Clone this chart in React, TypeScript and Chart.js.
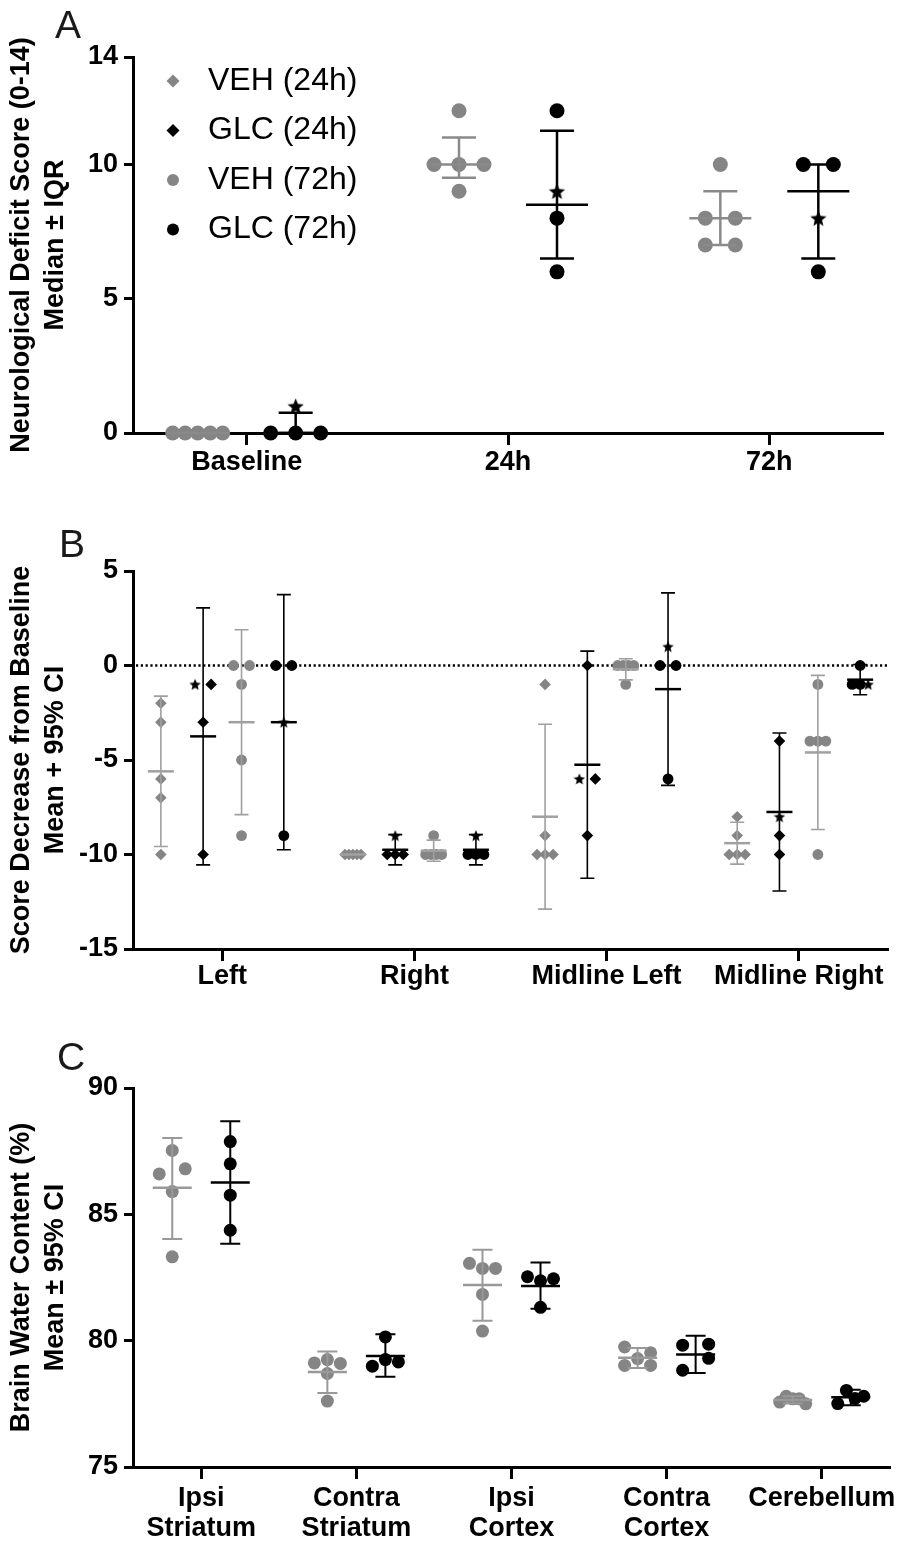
import React, { useEffect, useRef } from 'react';
import { Chart, registerables } from 'chart.js';

Chart.register(...registerables);

const FONT = "'Liberation Sans', Arial, Helvetica, sans-serif";
const GRAY = '#858585';
const BLACK = '#000000';

// ---------------- figure legend ----------------
const legendLabels = ['VEH (24h)', 'GLC (24h)', 'VEH (72h)', 'GLC (72h)'];

// ---------------- Panel A ----------------
const aCategories = ['Baseline', '24h', '72h'];
const aYTicks = [0, 5, 10, 14];
const aYTitle = ['Neurological Deficit Score (0-14)', 'Median ± IQR'];
const aVeh = [[0, 0, 0, 0, 0], [12, 10, 10, 10, 9], [10, 8, 8, 7, 7]];
const aGlc = [[0, 0, 0, 1], [12, 8, 6, 9], [10, 10, 8, 6]];
const aGlcStarIndex = [3, 3, 2];
const aVehMedian = [0, 10, 8];
const aVehQ1 = [0, 9.5, 7];
const aVehQ3 = [0, 11, 9];
const aGlcMedian = [0, 8.5, 9];
const aGlcQ1 = [0, 6.5, 6.5];
const aGlcQ3 = [0.75, 11.25, 10];

// ---------------- Panel B ----------------
const bCategories = ['Left', 'Right', 'Midline Left', 'Midline Right'];
const bYTicks = [-15, -10, -5, 0, 5];
const bYTitle = ['Score Decrease from Baseline', 'Mean + 95% CI'];
const bVeh24 = [[-2, -3, -6, -7, -10], [-10, -10, -10, -10, -10], [-1, -9, -10, -10, -10], [-8, -9, -10, -10, -10]];
const bGlc24 = [[-1, -1, -3, -10], [-9, -10, -10, -10], [-6, -6, 0, -9], [-8, -4, -9, -10]];
const bGlc24StarIndex = [0, 0, 0, 0];
const bVeh72 = [[0, 0, -1, -5, -9], [-9, -10, -10, -10, -10], [0, 0, 0, 0, -1], [-1, -4, -4, -4, -10]];
const bGlc72 = [[-3, 0, 0, -9], [-9, -10, -10, -10], [1, 0, 0, -6], [-1, -1, -1, 0]];
const bGlc72StarIndex = [0, 0, 0, 2];
const bVeh24Mean = [-5.6, -10, -8, -9.4];
const bVeh24Lo = [-9.58, -10, -12.89, -10.51];
const bVeh24Hi = [-1.62, -10, -3.11, -8.29];
const bGlc24Mean = [-3.75, -9.75, -5.25, -7.75];
const bGlc24Lo = [-10.55, -10.55, -11.26, -11.93];
const bGlc24Hi = [3.05, -8.95, 0.76, -3.57];
const bVeh72Mean = [-3, -9.8, -0.2, -4.6];
const bVeh72Lo = [-7.89, -10.36, -0.76, -8.68];
const bVeh72Hi = [1.89, -9.24, 0.36, -0.52];
const bGlc72Mean = [-3, -9.75, -1.25, -0.75];
const bGlc72Lo = [-9.75, -10.55, -6.34, -1.55];
const bGlc72Hi = [3.75, -8.95, 3.84, 0.05];

// ---------------- Panel C ----------------
const cCategories = [['Ipsi', 'Striatum'], ['Contra', 'Striatum'], ['Ipsi', 'Cortex'], ['Contra', 'Cortex'], ['Cerebellum']];
const cYTicks = [75, 80, 85, 90];
const cYTitle = ['Brain Water Content (%)', 'Mean ± 95% CI'];
const cVeh = [
  [87.53, 86.6, 86.8, 85.9, 83.32],
  [79.25, 79.12, 79.1, 78.7, 77.61],
  [82.86, 83.06, 82.86, 81.83, 80.38],
  [79.29, 79.75, 79.52, 79.02, 79.02],
  [77.7, 77.8, 77.7, 77.57, 77.5],
];
const cGlc = [
  [87.88, 87.0, 85.76, 84.37],
  [80.15, 79.25, 78.99, 79.16],
  [82.37, 82.53, 82.45, 81.32],
  [79.82, 79.86, 78.83, 79.3],
  [78.03, 77.71, 77.51, 77.8],
];
const cVehMean = [86.05, 78.76, 82.2, 79.32, 77.65];
const cVehLo = [84.02, 77.93, 80.79, 78.92, 77.51];
const cVehHi = [88.02, 79.57, 83.6, 79.71, 77.8];
const cGlcMean = [86.26, 79.39, 82.16, 79.45, 77.76];
const cGlcLo = [83.84, 78.57, 81.26, 78.72, 77.44];
const cGlcHi = [88.68, 80.25, 83.09, 80.19, 78.06];

// ---------------- helpers ----------------
type Shape = 'circle' | 'rectRot';
interface SeriesDef {
  values: number[][];
  starIndex: number[] | null;
  center: number[];
  lo: number[];
  hi: number[];
  offset: number;
  shape: Shape;
  radius: number;
  color: string;
  line: string;
}
interface PanelDef {
  height: number;
  padTop: number;
  padRight: number;
  xAxisH: number;
  labelPad: number;
  categories: (string | string[])[];
  xMin: number;
  xMax: number;
  yMin: number;
  yMax: number;
  yTicks: number[];
  yTitle: string[];
  letter: string;
  letterX: number;
  letterY: number;
  series: SeriesDef[];
  starSize: number;
  rowGap: number;
  pair: number;
  span: number;
  whisker: number;
  meanLw: number;
  capHalf: number;
  meanHalf: number;
  zeroLine: boolean;
  legend: boolean;
}

function makeStar(size: number, color: string): HTMLCanvasElement {
  const c = document.createElement('canvas');
  c.width = size;
  c.height = size;
  const ctx = c.getContext('2d')!;
  const R = size / 2;
  const r = R * 0.45;
  const cy = R + R * 0.09;
  ctx.beginPath();
  for (let i = 0; i < 10; i++) {
    const ang = -Math.PI / 2 + (i * Math.PI) / 5;
    const rad = i % 2 ? r : R;
    ctx.lineTo(R + rad * Math.cos(ang), cy + rad * Math.sin(ang));
  }
  ctx.closePath();
  ctx.fillStyle = color;
  ctx.fill();
  return c;
}

function slotOrder(n: number): number[] {
  const out: number[] = [];
  if (n % 2 === 1) {
    out.push(0);
    for (let k = 1; out.length < n; k++) {
      out.push(-k);
      if (out.length < n) out.push(k);
    }
  } else {
    for (let k = 0.5; out.length < n; k++) {
      out.push(-k);
      if (out.length < n) out.push(k);
    }
  }
  return out;
}

// scatter-dot spreading: points whose pixel rows overlap are spread sideways
function spread(vals: number[], toPx: (v: number) => number, rowGap: number, pair: number, span: number): number[] {
  const py = vals.map(toPx);
  const order = vals.map((_, i) => i).sort((a, b) => py[a] - py[b] || a - b);
  const rows: number[][] = [];
  let top = -Infinity;
  for (const i of order) {
    if (rows.length && py[i] - top < rowGap) rows[rows.length - 1].push(i);
    else {
      rows.push([i]);
      top = py[i];
    }
  }
  const off = vals.map(() => 0);
  rows.forEach((row) => {
    if (row.length < 2) return;
    row.sort((a, b) => a - b);
    const sp = Math.min(pair, span / (row.length - 1));
    const slots = slotOrder(row.length);
    row.forEach((i, k) => {
      off[i] = slots[k] * sp;
    });
  });
  return off;
}

const panelA: PanelDef = {
  height: 505, padTop: 57, padRight: 23, xAxisH: 72, labelPad: 2,
  categories: aCategories, xMin: -0.435, xMax: 2.435,
  yMin: 0, yMax: 14, yTicks: aYTicks, yTitle: aYTitle,
  letter: 'A', letterX: 55, letterY: 38,
  series: [
    { values: aVeh, starIndex: null, center: aVehMedian, lo: aVehQ1, hi: aVehQ3, offset: -0.1875, shape: 'circle', radius: 7.5, color: GRAY, line: '#8a8a8a' },
    { values: aGlc, starIndex: aGlcStarIndex, center: aGlcMedian, lo: aGlcQ1, hi: aGlcQ3, offset: 0.1875, shape: 'circle', radius: 7.5, color: BLACK, line: BLACK },
  ],
  starSize: 17, rowGap: 3, pair: 30, span: 50,
  whisker: 2.5, meanLw: 2.5, capHalf: 17, meanHalf: 31,
  zeroLine: false, legend: true,
};

const panelB: PanelDef = {
  height: 510, padTop: 66, padRight: 18, xAxisH: 66, labelPad: 0,
  categories: bCategories, xMin: -0.465, xMax: 3.465,
  yMin: -15, yMax: 5, yTicks: bYTicks, yTitle: bYTitle,
  letter: 'B', letterX: 59, letterY: 52,
  series: [
    { values: bVeh24, starIndex: null, center: bVeh24Mean, lo: bVeh24Lo, hi: bVeh24Hi, offset: -0.32, shape: 'rectRot', radius: 5.8, color: GRAY, line: '#a0a0a0' },
    { values: bGlc24, starIndex: bGlc24StarIndex, center: bGlc24Mean, lo: bGlc24Lo, hi: bGlc24Hi, offset: -0.1, shape: 'rectRot', radius: 5.8, color: BLACK, line: BLACK },
    { values: bVeh72, starIndex: null, center: bVeh72Mean, lo: bVeh72Lo, hi: bVeh72Hi, offset: 0.1, shape: 'circle', radius: 5.4, color: GRAY, line: '#a0a0a0' },
    { values: bGlc72, starIndex: bGlc72StarIndex, center: bGlc72Mean, lo: bGlc72Lo, hi: bGlc72Hi, offset: 0.32, shape: 'circle', radius: 5.4, color: BLACK, line: BLACK },
  ],
  starSize: 12, rowGap: 3, pair: 17, span: 16,
  whisker: 1.6, meanLw: 2.5, capHalf: 7, meanHalf: 13,
  zeroLine: true, legend: false,
};

const panelC: PanelDef = {
  height: 527, padTop: 73, padRight: 16, xAxisH: 75, labelPad: 4,
  categories: cCategories, xMin: -0.44, xMax: 4.44,
  yMin: 75, yMax: 90, yTicks: cYTicks, yTitle: cYTitle,
  letter: 'C', letterX: 57, letterY: 55,
  series: [
    { values: cVeh, starIndex: null, center: cVehMean, lo: cVehLo, hi: cVehHi, offset: -0.187, shape: 'circle', radius: 6.5, color: GRAY, line: '#999999' },
    { values: cGlc, starIndex: null, center: cGlcMean, lo: cGlcLo, hi: cGlcHi, offset: 0.187, shape: 'circle', radius: 6.5, color: BLACK, line: BLACK },
  ],
  starSize: 12, rowGap: 13.5, pair: 26, span: 26,
  whisker: 2, meanLw: 2.5, capHalf: 10, meanHalf: 19.5,
  zeroLine: false, legend: false,
};

const legendShapes: { shape: Shape; color: string }[] = [
  { shape: 'rectRot', color: GRAY },
  { shape: 'rectRot', color: BLACK },
  { shape: 'circle', color: GRAY },
  { shape: 'circle', color: BLACK },
];

function Panel({ p }: { p: PanelDef }) {
  const ref = useRef<HTMLCanvasElement>(null);
  useEffect(() => {
    const canvas = ref.current;
    if (!canvas) return;
    const star = makeStar(p.starSize, BLACK);

    const groups: { x: number; c: number; lo: number; hi: number; color: string }[] = [];
    const datasets: any[] = [];
    p.series.forEach((s) => {
      datasets.push({
        data: [], pointStyle: s.shape, pointRadius: s.radius, pointBorderWidth: 0,
        backgroundColor: s.color, borderColor: s.color, showLine: false, clip: false,
      });
      if (s.starIndex) {
        datasets.push({
          data: [], pointStyle: star, pointRadius: p.starSize / 2, pointBorderWidth: 0,
          backgroundColor: BLACK, borderColor: BLACK, showLine: false, clip: false,
        });
      }
      s.values.forEach((_, ci) => {
        groups.push({ x: ci + s.offset, c: s.center[ci], lo: s.lo[ci], hi: s.hi[ci], color: s.line });
      });
    });

    const deco = {
      id: 'deco',
      beforeDatasetsDraw(chart: any) {
        if (!p.zeroLine) return;
        const { ctx, chartArea, scales } = chart;
        const y0 = scales.y.getPixelForValue(0);
        ctx.save();
        ctx.strokeStyle = BLACK;
        ctx.lineWidth = 2.5;
        ctx.setLineDash([2.2, 2.6]);
        ctx.beginPath();
        ctx.moveTo(chartArea.left + 3, y0);
        ctx.lineTo(chartArea.right, y0);
        ctx.stroke();
        ctx.restore();
      },
      afterDatasetsDraw(chart: any) {
        const { ctx, scales } = chart;
        const xs = scales.x;
        const ys = scales.y;
        ctx.save();
        ctx.lineCap = 'butt';
        groups.forEach((g) => {
          const px = xs.getPixelForValue(g.x);
          const pc = ys.getPixelForValue(g.c);
          const pl = ys.getPixelForValue(g.lo);
          const ph = ys.getPixelForValue(g.hi);
          ctx.strokeStyle = g.color;
          if (g.hi > g.lo) {
            ctx.lineWidth = p.whisker;
            ctx.beginPath();
            ctx.moveTo(px, pl);
            ctx.lineTo(px, ph);
            ctx.moveTo(px - p.capHalf, pl);
            ctx.lineTo(px + p.capHalf, pl);
            ctx.moveTo(px - p.capHalf, ph);
            ctx.lineTo(px + p.capHalf, ph);
            ctx.stroke();
          }
          ctx.lineWidth = p.meanLw;
          ctx.beginPath();
          ctx.moveTo(px - p.meanHalf, pc);
          ctx.lineTo(px + p.meanHalf, pc);
          ctx.stroke();
        });
        ctx.restore();
      },
      afterDraw(chart: any) {
        const { ctx } = chart;
        ctx.save();
        ctx.fillStyle = '#1a1a1a';
        ctx.font = `39px ${FONT}`;
        ctx.textBaseline = 'alphabetic';
        ctx.textAlign = 'left';
        ctx.fillText(p.letter, p.letterX, p.letterY);
        if (p.legend) {
          legendLabels.forEach((label, i) => {
            const y = 81 + i * 49.5;
            const x = 173;
            const m = legendShapes[i];
            ctx.fillStyle = m.color;
            ctx.beginPath();
            if (m.shape === 'circle') {
              ctx.arc(x, y, 6, 0, Math.PI * 2);
            } else {
              const r = 6.5;
              ctx.moveTo(x - r, y);
              ctx.lineTo(x, y - r);
              ctx.lineTo(x + r, y);
              ctx.lineTo(x, y + r);
              ctx.closePath();
            }
            ctx.fill();
            ctx.fillStyle = BLACK;
            ctx.font = `32px ${FONT}`;
            ctx.textBaseline = 'middle';
            ctx.fillText(label, 208, y);
          });
        }
        ctx.restore();
      },
    };

    const tickFont = { family: FONT, size: 27, weight: 'bold' as const, lineHeight: 1.12 };
    const chart = new Chart(canvas, {
      type: 'scatter',
      data: { datasets },
      options: {
        responsive: false,
        animation: false,
        events: [],
        layout: { padding: { top: p.padTop, right: p.padRight, left: 0, bottom: 0 } },
        plugins: { legend: { display: false }, tooltip: { enabled: false } },
        scales: {
          x: {
            type: 'linear',
            min: p.xMin,
            max: p.xMax,
            afterFit: (s: any) => { s.height = p.xAxisH; },
            afterBuildTicks: (s: any) => { s.ticks = p.categories.map((_, i) => ({ value: i })); },
            ticks: {
              autoSkip: false, maxRotation: 0, minRotation: 0, padding: p.labelPad,
              color: BLACK, font: tickFont,
              callback: (v: any) => p.categories[Math.round(Number(v))] as any,
            },
            grid: { display: true, drawOnChartArea: false, drawTicks: true, tickLength: 12, tickWidth: 3, tickColor: BLACK, color: BLACK },
            border: { display: true, color: BLACK, width: 3 },
          },
          y: {
            type: 'linear',
            min: p.yMin,
            max: p.yMax,
            afterFit: (s: any) => { s.width = 133; },
            afterBuildTicks: (s: any) => { s.ticks = p.yTicks.map((v) => ({ value: v })); },
            ticks: {
              autoSkip: false, padding: 6, color: BLACK,
              font: { family: FONT, size: 27, weight: 'bold' as const, lineHeight: 1.2 },
              callback: (v: any) => String(v),
            },
            grid: { display: true, drawOnChartArea: false, drawTicks: true, tickLength: 9, tickWidth: 3, tickColor: BLACK, color: BLACK },
            border: { display: true, color: BLACK, width: 3 },
            title: {
              display: true, text: p.yTitle, color: BLACK,
              font: { family: FONT, size: 27, weight: 'bold' as const, lineHeight: 1.25 },
              padding: { top: 5, bottom: 0 },
            },
          },
        },
      } as any,
      plugins: [deco],
    });

    // place the points: spread equal/overlapping values sideways, as in a scatter-dot plot
    const xs: any = chart.scales.x;
    const ys: any = chart.scales.y;
    const ppu = xs.getPixelForValue(1) - xs.getPixelForValue(0);
    let di = 0;
    p.series.forEach((s) => {
      const pts: { x: number; y: number }[] = [];
      const stars: { x: number; y: number }[] = [];
      s.values.forEach((vals, ci) => {
        const off = spread(vals, (v) => ys.getPixelForValue(v), p.rowGap, p.pair, p.span);
        const si = s.starIndex ? s.starIndex[ci] : -1;
        vals.forEach((v, k) => {
          const pt = { x: ci + s.offset + off[k] / ppu, y: v };
          if (k === si) stars.push(pt);
          else pts.push(pt);
        });
      });
      chart.data.datasets[di].data = pts as any;
      di++;
      if (s.starIndex) {
        chart.data.datasets[di].data = stars as any;
        di++;
      }
    });
    chart.update('none');

    return () => chart.destroy();
  }, [p]);

  return <canvas ref={ref} width={906} height={p.height} style={{ display: 'block', width: 906, height: p.height }} />;
}

export default function App() {
  return (
    <div style={{ position: 'absolute', left: 0, top: 0, width: 906, height: 1542, background: '#ffffff' }}>
      <Panel p={panelA} />
      <Panel p={panelB} />
      <Panel p={panelC} />
    </div>
  );
}
